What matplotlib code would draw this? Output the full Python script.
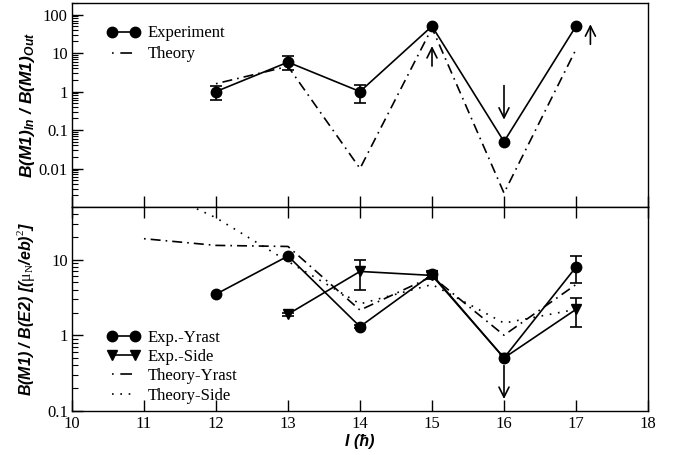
import matplotlib
matplotlib.use("Agg")
import matplotlib.pyplot as plt
from matplotlib.ticker import FixedLocator, FixedFormatter, LogLocator, NullFormatter
import numpy as np

plt.rcParams['font.family'] = ['Liberation Serif', 'DejaVu Serif']
plt.rcParams['mathtext.fontset'] = 'custom'
plt.rcParams['mathtext.it'] = 'Liberation Sans:bold:italic'
plt.rcParams['mathtext.bf'] = 'Liberation Sans:bold:italic'
plt.rcParams['mathtext.rm'] = 'Liberation Serif'

# ---------------- data ----------------
# upper panel: B(M1)_In / B(M1)_Out
spin_top = [12, 13, 14, 15, 16, 17]
ratio_exp = [1.0, 5.8, 1.0, 50.0, 0.05, 50.0]
ratio_err_lo = [0.4, 2.2, 0.5, 0.0, 0.0, 0.0]
ratio_err_hi = [0.4, 2.5, 0.5, 0.0, 0.0, 0.0]
ratio_theory = [1.6, 4.5, 0.01, 45.0, 0.0023, 12.5]
# limit arrows (x, tail value, head value)
top_arrow_x = [15.0, 16.0, 17.2]
top_arrow_tail = [4.6, 1.43, 16.9]
top_arrow_head = [15.2, 0.186, 56.0]

# lower panel: B(M1)/B(E2)
spin_yrast = [12, 13, 14, 15, 16, 17]
bm1e2_yrast = [3.5, 11.2, 1.3, 6.4, 0.5, 8.0]
yrast_err_lo = [0.0, 0.0, 0.06, 0.6, 0.0, 3.05]
yrast_err_hi = [0.0, 0.0, 0.06, 0.8, 0.0, 3.1]
spin_side = [13, 14, 15, 16, 17]
bm1e2_side = [1.9, 7.0, 6.2, 0.5, 2.2]
side_err_lo = [0.1, 3.05, 0.6, 0.0, 0.9]
side_err_hi = [0.1, 2.8, 0.7, 0.0, 0.9]
spin_theory = [11, 12, 13, 14, 15, 16, 17]
theory_yrast = [19.0, 15.5, 15.0, 2.15, 6.0, 1.0, 4.7]
theory_side = [100.0, 36.0, 9.5, 2.6, 4.7, 1.45, 2.2]
bot_arrow_x = [16.0]
bot_arrow_tail = [0.397]
bot_arrow_head = [0.143]

x_ticks = [10, 11, 12, 13, 14, 15, 16, 17, 18]
x_ticklabels = ['10', '11', '12', '13', '14', '15', '16', '17', '18']
top_yticks = [0.01, 0.1, 1, 10, 100]
top_yticklabels = ['0.01', '0.1', '1', '10', '100']
bot_yticks = [0.1, 1, 10]
bot_yticklabels = ['0.1', '1', '10']

# ---------------- figure ----------------
fig = plt.figure(figsize=(6.78, 4.55), dpi=100)
L, R = 72 / 678, 648 / 678
ax1 = fig.add_axes([L, 1 - 207 / 455, R - L, (207 - 3) / 455])
ax2 = fig.add_axes([L, 1 - 410.7 / 455, R - L, (410.7 - 207) / 455])

LW = 1.2
dashdot = (0, (1, 3, 6, 3))
dashdot_leg = (0, (1, 4, 7, 4))
dotted = (0, (1, 4))
cap = 4
FS = 12

def errs(x, y, lo, hi):
    idx = [i for i in range(len(x)) if lo[i] > 0 or hi[i] > 0]
    return ([x[i] for i in idx], [y[i] for i in idx],
            [[lo[i] for i in idx], [hi[i] for i in idx]])

# upper panel
ax1.plot(spin_top, ratio_exp, '-', color='black', lw=LW, marker='o', ms=7.5,
         label='Experiment')
ex, ey, ee = errs(spin_top, ratio_exp, ratio_err_lo, ratio_err_hi)
ax1.errorbar(ex, ey, yerr=ee, fmt='none', ecolor='black', elinewidth=LW,
             capsize=cap, capthick=LW)
ax1.plot(spin_top, ratio_theory, color='black', lw=LW, linestyle=dashdot,
         label='Theory')
for xa, yt, yh in zip(top_arrow_x, top_arrow_tail, top_arrow_head):
    ax1.annotate('', xy=(xa, yh), xytext=(xa, yt),
                 arrowprops=dict(arrowstyle='->', lw=LW, color='black',
                                 shrinkA=0, shrinkB=0, mutation_scale=18))

ax1.set_yscale('log')
ax1.set_ylim(0.001, 200)
ax1.set_xlim(10, 18)

# lower panel
ax2.plot(spin_yrast, bm1e2_yrast, '-', color='black', lw=LW, marker='o', ms=7.5,
         label='Exp.-Yrast')
ex, ey, ee = errs(spin_yrast, bm1e2_yrast, yrast_err_lo, yrast_err_hi)
ax2.errorbar(ex, ey, yerr=ee, fmt='none', ecolor='black', elinewidth=LW,
             capsize=cap, capthick=LW)
ax2.plot(spin_side, bm1e2_side, '-', color='black', lw=LW, marker='v', ms=7,
         label='Exp.-Side')
ex, ey, ee = errs(spin_side, bm1e2_side, side_err_lo, side_err_hi)
ax2.errorbar(ex, ey, yerr=ee, fmt='none', ecolor='black', elinewidth=LW,
             capsize=cap, capthick=LW)
ax2.plot(spin_theory, theory_yrast, color='black', lw=LW, linestyle=dashdot,
         label='Theory-Yrast')
ax2.plot(spin_theory, theory_side, color='black', lw=LW, linestyle=dotted,
         label='Theory-Side')
for xa, yt, yh in zip(bot_arrow_x, bot_arrow_tail, bot_arrow_head):
    ax2.annotate('', xy=(xa, yh), xytext=(xa, yt),
                 arrowprops=dict(arrowstyle='->', lw=LW, color='black',
                                 shrinkA=0, shrinkB=0, mutation_scale=18))
ax2.set_yscale('log')
ax2.set_ylim(0.1, 50)
ax2.set_xlim(10, 18)

for ax, yt, ytl in ((ax1, top_yticks, top_yticklabels),
                    (ax2, bot_yticks, bot_yticklabels)):
    ax.yaxis.set_major_locator(FixedLocator(yt))
    ax.yaxis.set_major_formatter(FixedFormatter(ytl))
    ax.yaxis.set_minor_locator(LogLocator(base=10, subs=np.arange(2, 10), numticks=20))
    ax.yaxis.set_minor_formatter(NullFormatter())
    ax.xaxis.set_major_locator(FixedLocator(x_ticks))
    ax.tick_params(axis='both', which='major', direction='in', length=8,
                   width=1.0, labelsize=FS, pad=3)
    ax.tick_params(axis='y', which='minor', direction='in', length=4, width=0.8)
    ax.tick_params(axis='y', which='both', right=False)
    for s in ax.spines.values():
        s.set_linewidth(1.0)

ax1.tick_params(axis='x', which='both', bottom=True, top=False, labelbottom=False)
ax2.tick_params(axis='x', which='both', bottom=True, top=True)
ax2.xaxis.set_major_formatter(FixedFormatter(x_ticklabels))
ax2.tick_params(axis='x', pad=4)

lab_font = dict(family='Liberation Sans', weight='bold', style='italic')
ax1.set_ylabel('B(M1)$_{In}$ / B(M1)$_{Out}$', size=12.5, **lab_font)
ax2.set_ylabel('B(M1) / B(E2) [($\\mathrm{\\mu_N}$/eb)$^{2}$]', size=11.5, **lab_font)
ax1.yaxis.set_label_coords(-0.06, 0.5)
ax2.yaxis.set_label_coords(-0.06, 0.5)
ax2.set_xlabel('I (ħ)', labelpad=1, size=11.5, **lab_font)

leg_kw = dict(frameon=False, fontsize=FS, numpoints=2, handlelength=2.0,
              handletextpad=0.45, borderaxespad=0, borderpad=0, loc='upper left')
leg1 = ax1.legend(bbox_to_anchor=(0.061, 0.89), labelspacing=0.3, **leg_kw)
leg2 = ax2.legend(bbox_to_anchor=(0.061, 0.398), labelspacing=0.2, **leg_kw)
leg1.get_lines()[1].set_linestyle(dashdot_leg)
leg2.get_lines()[2].set_linestyle(dashdot_leg)

fig.savefig('out.png', dpi=100)
